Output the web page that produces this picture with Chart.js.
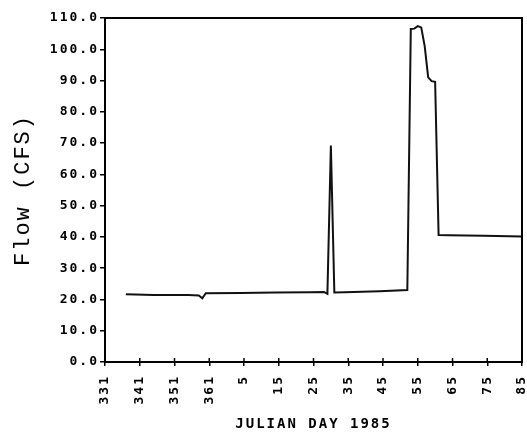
<!DOCTYPE html>
<html>
<head>
<meta charset="utf-8">
<script src="https://cdn.jsdelivr.net/npm/chart.js@4.4.1/dist/chart.umd.min.js"></script>
<style>
  html, body { margin: 0; padding: 0; background: #fff; }
  #wrap { width: 527px; height: 434px; }
</style>
</head>
<body>
<div id="wrap"><canvas id="flowChart"></canvas></div>
<script>
// day numbers run on from 1984 (leap year, 366 days): 1985 day d = 366 + d
const days = [337, 345, 355, 358, 359, 360, 370, 380, 390, 394, 395, 396, 397, 400, 410, 418,
  419, 420, 421, 422, 423, 424, 425, 426, 427, 430, 440, 451];
const flows = [21.7, 21.4, 21.4, 21.3, 20.4, 22.0, 22.1, 22.2, 22.3, 22.4, 21.8, 69.2, 22.2, 22.3, 22.6, 23.0,
  106.5, 106.6, 107.4, 107.0, 101.0, 91.0, 89.8, 89.6, 40.6, 40.5, 40.4, 40.1];
const yTicks = [0, 10, 20, 30, 40, 50, 60, 70, 80, 90, 100, 110];
const xTicks = [331, 341, 351, 361, 371, 381, 391, 401, 411, 421, 431, 441, 451];

const tickFont = { family: "DejaVu Sans Mono", size: 13, weight: "bold" };

// plotter lettering is widely spaced
const spacing = {
  id: "spacing",
  beforeLayout(chart) { chart.ctx.letterSpacing = "2px"; },
  beforeDraw(chart) { chart.ctx.letterSpacing = "2px"; },
};

const frame = {
  id: "frame",
  afterDraw(chart) {
    const { ctx, chartArea: a, scales } = chart;
    ctx.save();
    ctx.strokeStyle = "#000";
    ctx.lineWidth = 2;
    ctx.strokeRect(a.left, a.top, a.right - a.left, a.bottom - a.top);
    // inner half of the "+" tick marks on the day axis
    ctx.lineWidth = 1.5;
    scales.x.ticks.forEach((t) => {
      const px = scales.x.getPixelForValue(t.value);
      ctx.beginPath();
      ctx.moveTo(px, a.bottom);
      ctx.lineTo(px, a.bottom - 4);
      ctx.stroke();
    });
    ctx.restore();
  },
};

new Chart(document.getElementById("flowChart"), {
  type: "line",
  data: {
    datasets: [
      {
        data: days.map((d, i) => ({ x: d, y: flows[i] })),
        borderColor: "#111",
        borderWidth: 2,
        pointRadius: 0,
        tension: 0,
      },
    ],
  },
  options: {
    responsive: true,
    maintainAspectRatio: false,
    animation: false,
    layout: { padding: { top: 18, right: 5, left: 0, bottom: 0 } },
    scales: {
      x: {
        type: "linear",
        min: 331,
        max: 451,
        afterBuildTicks: (s) => { s.ticks = xTicks.map((v) => ({ value: v })); },
        afterFit: (s) => { s.height = 72; s.paddingLeft = 0; s.paddingRight = 0; },
        grid: { drawOnChartArea: false, tickLength: 4, color: "#000", lineWidth: 1.5 },
        border: { color: "#000", width: 2 },
        ticks: {
          autoSkip: false,
          maxRotation: 90,
          minRotation: 90,
          padding: 9,
          color: "#000",
          font: tickFont,
          callback: (v) => (v > 366 ? v - 366 : v),
        },
        title: {
          display: true,
          text: "JULIAN DAY 1985",
          color: "#000",
          font: { family: "DejaVu Sans Mono", size: 14, weight: "bold" },
          padding: { top: 4, bottom: 1 },
        },
      },
      y: {
        min: 0,
        max: 110,
        afterBuildTicks: (s) => { s.ticks = yTicks.map((v) => ({ value: v })); },
        afterFit: (s) => { s.width = 105; },
        grid: { drawOnChartArea: false, tickLength: 5, color: "#000", lineWidth: 1.5 },
        border: { color: "#000", width: 2 },
        ticks: {
          padding: 1,
          color: "#000",
          font: tickFont,
          callback: (v) => v.toFixed(1),
        },
        title: {
          display: true,
          text: "Flow (CFS)",
          color: "#000",
          font: { family: "Liberation Mono", size: 22 },
          padding: { top: 10, bottom: 0 },
        },
      },
    },
    plugins: {
      legend: { display: false },
      tooltip: { enabled: false },
    },
  },
  plugins: [spacing, frame],
});
</script>
</body>
</html>
